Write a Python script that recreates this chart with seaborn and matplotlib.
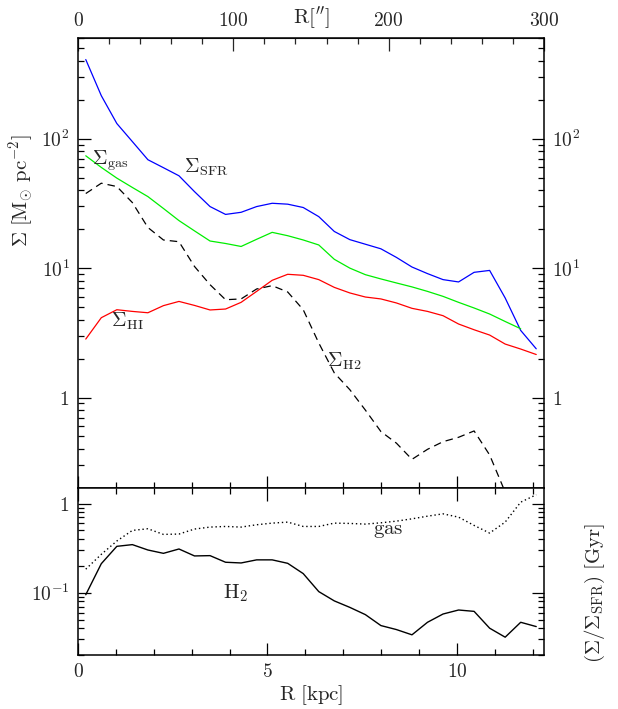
import numpy as np
import pandas as pd
import matplotlib
matplotlib.use("Agg")
import matplotlib.pyplot as plt
import matplotlib.ticker as mticker
import seaborn as sns

# ---- data ----
R_arcsec = [5, 15, 25, 35, 45, 55, 65, 75, 85, 95, 105, 115, 125, 135, 145,
            155, 165, 175, 185, 195, 205, 215, 225, 235, 245, 255, 265, 275, 285, 295]
ARCSEC_PER_KPC = 300 / 12.3

sigma_sfr = [409, 215, 131, 95, 68.8, 59.7, 51.7, 39, 29.9, 26, 27, 29.9, 31.7, 31.2, 29.4,
             25.0, 19.2, 16.6, 15.3, 14.1, 12.1, 10.2, 9.07, 8.15, 7.82, 9.28, 9.6, 5.88, 3.30, 2.38]
sigma_gas = [73.8, 60, 49.6, 42, 35.7, 28.9, 23.3, 19.4, 16.2, 15.5, 14.7, 16.7, 18.9, 17.8, 16.5,
             15.1, 11.7, 10.0, 8.9, 8.25, 7.68, 7.16, 6.61, 6.05, 5.44, 4.92, 4.42, 3.87, 3.40, np.nan]
sigma_hi = [2.83, 4.14, 4.77, 4.63, 4.52, 5.13, 5.53, 5.15, 4.75, 4.83, 5.44, 6.61, 8.05, 8.96, 8.80,
            8.15, 7.10, 6.43, 5.98, 5.78, 5.38, 4.89, 4.63, 4.29, 3.70, 3.34, 3.04, 2.59, 2.37, 2.15]
sigma_h2 = [37.7, 45.3, 42.7, 32.1, 20.6, 16.5, 16.0, 10.3, 7.45, 5.70, 5.78, 6.90, 7.32, 6.54, 4.77,
            2.64, 1.55, 1.15, 0.80, 0.546, 0.444, 0.333, 0.398, 0.456, 0.493, 0.552, 0.36, 0.186, 0.154, 0.099]
tau_gas = [0.184, 0.270, 0.381, 0.501, 0.523, 0.452, 0.456, 0.519, 0.546, 0.555, 0.546, 0.580, 0.605, 0.621, 0.555,
           0.555, 0.605, 0.600, 0.590, 0.610, 0.637, 0.676, 0.724, 0.769, 0.706, 0.570, 0.468, 0.621, 1.04, 1.26]
tau_h2 = [0.095, 0.212, 0.332, 0.347, 0.302, 0.277, 0.310, 0.259, 0.261, 0.220, 0.216, 0.234, 0.234, 0.214, 0.164,
          0.103, 0.081, 0.0685, 0.0568, 0.0428, 0.0386, 0.0337, 0.0466, 0.0577, 0.064, 0.0618, 0.040, 0.0317, 0.0466, 0.0417]

R_kpc = [r / ARCSEC_PER_KPC for r in R_arcsec]
df = pd.DataFrame({"R": R_kpc, "sfr": sigma_sfr, "gas": sigma_gas, "hi": sigma_hi,
                   "h2": sigma_h2, "tgas": tau_gas, "th2": tau_h2})

# ---- style ----
sns.set_style("ticks")
plt.rcParams["font.family"] = ["DejaVu Serif"]
plt.rcParams["mathtext.fontset"] = "cm"

fig = plt.figure(figsize=(6.18, 7.09), dpi=100)
L, Rr = 78 / 618, 544 / 618
ax1 = fig.add_axes([L, 1 - 488 / 709, Rr - L, (488 - 38) / 709])
ax2 = fig.add_axes([L, 1 - 655 / 709, Rr - L, (655 - 488) / 709])

lw = 0.9
sns.lineplot(data=df, x="R", y="sfr", ax=ax1, color="#0000ff", lw=lw)
sns.lineplot(data=df.dropna(subset=["gas"]), x="R", y="gas", ax=ax1, color="#00ee00", lw=lw)
sns.lineplot(data=df, x="R", y="hi", ax=ax1, color="#ff0000", lw=lw)
sns.lineplot(data=df, x="R", y="h2", ax=ax1, color="black", lw=lw, dashes=False)
ax1.lines[-1].set_dashes((6, 4))

sns.lineplot(data=df, x="R", y="tgas", ax=ax2, color="black", lw=1.0)
ax2.lines[-1].set_linestyle((0, (1, 2)))
sns.lineplot(data=df, x="R", y="th2", ax=ax2, color="black", lw=1.0)

for ax in (ax1, ax2):
    ax.set_yscale("log")
    ax.set_xlim(0, 12.3)
    ax.set_xlabel("")
    ax.set_ylabel("")
    for s in ax.spines.values():
        s.set_visible(True)
        s.set_linewidth(1.1)
        s.set_color("black")
    ax.xaxis.set_major_locator(mticker.MultipleLocator(5))
    ax.xaxis.set_minor_locator(mticker.MultipleLocator(1))
    ax.tick_params(which="both", direction="in", top=True, right=True, color="black", width=0.9)
    ax.tick_params(which="major", length=9)
    ax.tick_params(which="minor", length=4.5)
    ax.yaxis.set_minor_locator(mticker.LogLocator(base=10, subs=np.arange(2, 10)))
    ax.yaxis.set_minor_formatter(mticker.NullFormatter())

ax1.set_ylim(0.2, 600)
ax1.yaxis.set_major_locator(mticker.FixedLocator([1, 10, 100]))
ax1.yaxis.set_major_formatter(mticker.FixedFormatter([r"$1$", r"$10^1$", r"$10^2$"]))
ax1.tick_params(labelbottom=False, labelright=True, labelsize=14, pad=6)

ax2.set_ylim(0.02, 1.5)
ax2.yaxis.set_major_locator(mticker.FixedLocator([0.1, 1]))
ax2.yaxis.set_major_formatter(mticker.FixedFormatter([r"$10^{-1}$", r"$1$"]))
ax2.set_xticks([0, 5, 10])
ax2.set_xticklabels([r"$0$", r"$5$", r"$10$"])
ax2.tick_params(labelsize=14, labelright=False, pad=6)

# top axis in arcsec
sec = ax1.secondary_xaxis("top", functions=(lambda x: x * ARCSEC_PER_KPC, lambda a: a / ARCSEC_PER_KPC))
sec.xaxis.set_major_locator(mticker.FixedLocator([0, 100, 200, 300]))
sec.xaxis.set_major_formatter(mticker.FixedFormatter([r"$0$", r"$100$", r"$200$", r"$300$"]))
sec.xaxis.set_minor_locator(mticker.MultipleLocator(20))
sec.tick_params(which="both", direction="in", labelsize=14, pad=6, width=0.9)
sec.tick_params(which="major", length=9)
sec.tick_params(which="minor", length=4.5)
ax1.tick_params(axis="x", top=False, which="both")
ax1.text(0.5, 1.045, r"$\rm R[^{\prime\prime}]$", transform=ax1.transAxes, ha="center", va="center", fontsize=15)

# axis labels
ax1.text(-0.12, 0.66, r"$\Sigma\ [\rm M_{\odot}\ pc^{-2}]$", transform=ax1.transAxes,
         rotation=90, ha="center", va="center", fontsize=15)
ax2.text(0.5, -0.24, r"$\rm R\ [kpc]$", transform=ax2.transAxes, ha="center", va="center", fontsize=15)
ax2.text(1.109, 0.37, r"$(\Sigma/\Sigma_{\rm SFR})\ [\rm Gyr]$", transform=ax2.transAxes,
         rotation=90, ha="center", va="center", fontsize=15)

# curve labels
ax1.text(2.8, 60, r"$\Sigma_{\rm SFR}$", ha="left", va="center", fontsize=14.5)
ax1.text(0.37, 67.3, r"$\Sigma_{\rm gas}$", ha="left", va="center", fontsize=14.5)
ax1.text(0.87, 3.85, r"$\Sigma_{\rm HI}$", ha="left", va="center", fontsize=14.5)
ax1.text(6.57, 1.89, r"$\Sigma_{\rm H2}$", ha="left", va="center", fontsize=14.5)
ax2.text(7.78, 0.497, r"$\rm gas$", ha="left", va="center", fontsize=15)
ax2.text(3.83, 0.098, r"$\rm H_2$", ha="left", va="center", fontsize=15)

fig.savefig("out.png", dpi=100)
